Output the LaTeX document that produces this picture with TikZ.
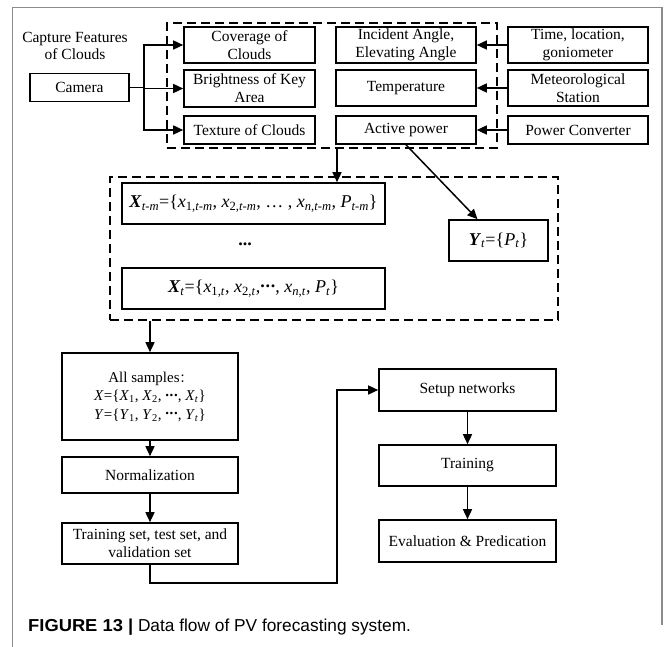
\documentclass[tikz,border=0pt]{standalone}
\usepackage{fontspec}
\setmainfont{Liberation Serif}
\newfontfamily\capfont{Liberation Sans}
\newfontfamily\cjkfont{Noto Sans CJK SC}
\usetikzlibrary{arrows.meta}
\newcommand{\sbs}[1]{\textsubscript{#1}}
\newcommand{\mdots}{\raisebox{0.28em}{\textbf{.\kern0.04em.\kern0.04em.}}}
\newcommand{\bX}{\textbf{\textit{X}}}
\newcommand{\bY}{\textbf{\textit{Y}}}
\begin{document}
\begin{tikzpicture}[x=1pt,y=-1pt,
  box/.style={draw, line width=1.6pt, align=center, inner sep=0pt,
    font=\fontsize{15.5}{18}\selectfont},
  mbox/.style={box, font=\fontsize{18}{20}\selectfont},
  dbox/.style={draw, line width=1.5pt, dash pattern=on 9pt off 5pt, inner sep=0pt},
  arr/.style={line width=1.5pt, -{Triangle[length=10pt,width=9pt]}},
  ln/.style={line width=1.5pt},
  plain/.style={align=center, inner sep=0pt, font=\fontsize{15.5}{17.5}\selectfont}]
\useasboundingbox (0,0) rectangle (665,647);
% frame
\draw[line width=1.5pt, draw=black!45] (12.5,647) -- (12.5,7.5) -- (662,7.5) -- (662,625);

% dashed groups
\node[dbox, minimum width=330pt, minimum height=125pt] (d1) at (332,85.5) {};
\node[dbox, minimum width=448pt, minimum height=143pt] (d2) at (334,248.5) {};

% top area
\node[plain] (capt) at (75,46) {Capture Features\\of Clouds};
\node[box, minimum width=99pt, minimum height=28pt] (camera) at (79.5,87.5) {Camera};

\node[box, minimum width=131pt, minimum height=36pt] (cover) at (249.5,45) {Coverage of\\Clouds};
\node[box, minimum width=131pt, minimum height=37pt] (bright) at (249.5,88.5) {Brightness of Key\\Area};
\node[box, minimum width=131pt, minimum height=28pt] (texture) at (249.5,130) {Texture of Clouds};

\node[box, minimum width=140pt, minimum height=36pt] (incident) at (406,45) {Incident Angle,\\Elevating Angle};
\node[box, minimum width=140pt, minimum height=36pt] (temp) at (406,88) {Temperature};
\node[box, minimum width=140pt, minimum height=28pt] (active) at (406,130) {Active power};

\node[box, minimum width=140pt, minimum height=36pt] (timeloc) at (578,45) {Time, location,\\goniometer};
\node[box, minimum width=140pt, minimum height=36pt] (meteo) at (578,88) {Meteorological\\Station};
\node[box, minimum width=140pt, minimum height=28pt] (pconv) at (578,130) {Power Converter};

% middle area
\node[mbox, minimum width=263pt, minimum height=41pt] (xtm) at (253.5,203.5)
  {\bX\sbs{\textit{t-m}}=\{\textit{x}\sbs{1,\textit{t-m}}, \textit{x}\sbs{2,\textit{t-m}}, … , \textit{x}\sbs{\textit{n},\textit{t-m}}, \textit{P}\sbs{\textit{t-m}}\}};
\node[inner sep=0pt, font=\fontsize{18}{20}\selectfont\bfseries] (vdots) at (245,244) {...};
\node[mbox, minimum width=263pt, minimum height=41pt] (xt) at (253.5,288.5)
  {\bX\sbs{\textit{t}}=\{\textit{x}\sbs{1,\textit{t}}, \textit{x}\sbs{2,\textit{t}},\mdots, \textit{x}\sbs{\textit{n},\textit{t}}, \textit{P}\sbs{\textit{t}}\}};
\node[mbox, minimum width=99pt, minimum height=41pt] (yt) at (498.5,240.5)
  {\bY\sbs{\textit{t}}=\{\textit{P}\sbs{\textit{t}}\}};

% lower left
\node[box, minimum width=176pt, minimum height=87pt, font=\fontsize{15}{18.5}\selectfont] (all) at (150,396.5)
  {All samples{\cjkfont\fontsize{12}{14}\selectfont ：}\\
   \textit{X}=\{\textit{X}\sbs{1}, \textit{X}\sbs{2}, \mdots, \textit{X}\sbs{\textit{t}}\}\\
   \textit{Y}=\{\textit{Y}\sbs{1}, \textit{Y}\sbs{2}, \mdots, \textit{Y}\sbs{\textit{t}}\}};
\node[box, minimum width=176pt, minimum height=36pt] (norm) at (150,475) {Normalization};
\node[box, minimum width=176pt, minimum height=41pt] (tset) at (150,543.5) {Training set, test set, and\\validation set};

% lower right
\node[box, minimum width=177pt, minimum height=42pt] (setup) at (467.5,390) {Setup networks};
\node[box, minimum width=177pt, minimum height=41pt] (train) at (467.5,465.5) {Training};
\node[box, minimum width=177pt, minimum height=42pt] (eval) at (467.5,541) {Evaluation \& Predication};

% caption
\node[anchor=base west, inner sep=0pt, font=\capfont\fontsize{17.3}{20}\selectfont] (cap) at (28,631)
  {\scalebox{1.06}[1]{\bfseries FIGURE 13 |} Data flow of PV forecasting system.};

% connectors
\draw[ln] (camera.east) -- ++(14,0) coordinate (split);
\draw[arr] (split) |- (cover.west);
\draw[arr] (split) -- (split |- bright.west) -- (bright.west);
\draw[arr] (split) |- (texture.west);

\draw[arr] (timeloc.west) -- (incident.east);
\draw[arr] (meteo.west) -- (temp.east);
\draw[arr] (pconv.west) -- (active.east);

\coordinate (a1) at (337,148);
\draw[arr] (a1) -- (a1 |- xtm.north);
\draw[arr] (active.south) -- ([xshift=-21pt]yt.north);

\draw[arr] (d2.south -| all.north) -- (all.north);
\draw[arr] (all) -- (norm);
\draw[arr] (norm) -- (tset);

\coordinate (turn) at (337,583);
\draw[arr] (tset.south) |- (turn) |- (setup.west);
\draw[arr] (setup) -- (train);
\draw[arr] (train) -- (eval);
\end{tikzpicture}
\end{document}
